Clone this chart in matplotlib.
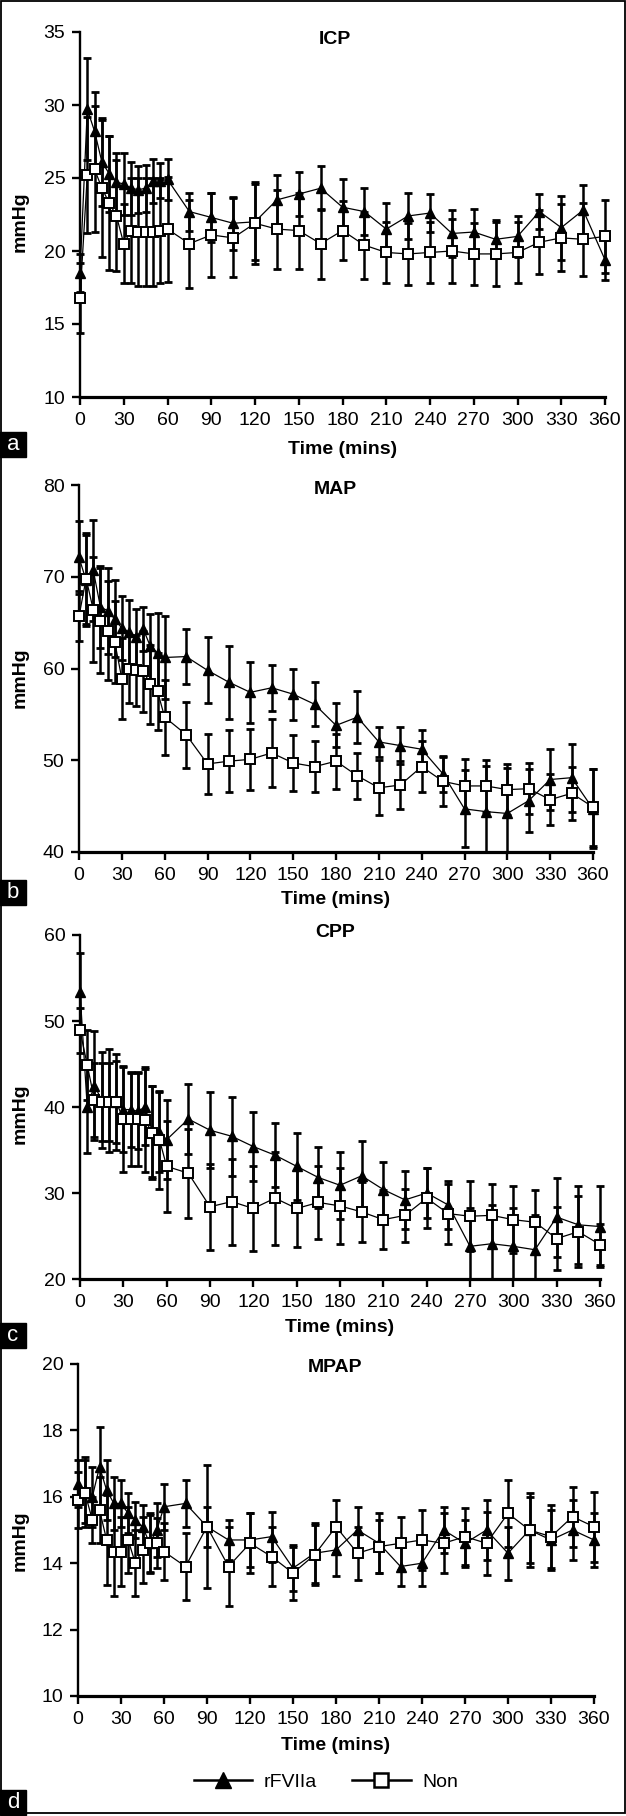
import numpy as np
import matplotlib
matplotlib.use('Agg')
import matplotlib.pyplot as plt
from matplotlib.lines import Line2D
from matplotlib.patches import Rectangle

plt.rcParams['font.family'] = ['Liberation Sans', 'DejaVu Sans']

W, H = 626, 1816

time = [0, 5, 10, 15, 20, 25, 30, 35, 40, 45, 50, 55, 60, 75, 90, 105, 120,
        135, 150, 165, 180, 195, 210, 225, 240, 255, 270, 285, 300, 315, 330, 345, 360]
xticks = [0, 30, 60, 90, 120, 150, 180, 210, 240, 270, 300, 330, 360]

# ICP
icp_rf = [18.5, 29.7, 28.2, 26.1, 25.3, 24.7, 24.6, 24.3, 24.2, 24.3, 24.8, 24.8, 24.9, 22.7, 22.3, 21.9, 22.0,
          23.5, 23.9, 24.3, 23.0, 22.7, 21.5, 22.4, 22.6, 21.2, 21.3, 20.8, 21.0, 22.7, 21.6, 22.8, 19.4]
icp_rf_err = [1.3, 3.5, 2.7, 3.0, 2.6, 2.0, 2.1, 1.8, 1.6, 1.6, 1.5, 1.2, 1.4, 1.3, 1.7, 1.8, 2.6,
              1.7, 1.5, 1.5, 1.9, 1.6, 1.8, 1.6, 1.3, 1.6, 1.6, 1.3, 1.4, 1.2, 2.2, 1.7, 1.4]
icp_non = [16.8, 25.2, 25.6, 24.3, 23.3, 22.4, 20.5, 21.4, 21.3, 21.3, 21.3, 21.4, 21.5, 20.5, 21.1, 20.9, 21.9,
           21.5, 21.4, 20.5, 21.4, 20.4, 19.9, 19.8, 19.9, 20.0, 19.8, 19.8, 19.9, 20.6, 20.9, 20.8, 21.0]
icp_non_err = [2.4, 4.0, 4.3, 4.7, 4.6, 3.8, 2.7, 3.6, 3.7, 3.7, 3.7, 3.6, 3.6, 3.0, 2.9, 2.7, 2.8,
               2.7, 2.6, 2.4, 2.0, 2.3, 2.1, 2.1, 2.1, 2.2, 2.1, 2.2, 2.1, 2.2, 2.3, 2.5, 2.5]

# MAP
map_rf = [72.1, 69.6, 70.7, 66.7, 66.3, 65.4, 64.4, 64.0, 63.4, 64.3, 62.4, 61.7, 61.2, 61.3, 59.8, 58.5, 57.4,
          57.9, 57.2, 56.1, 53.8, 54.7, 52.0, 51.6, 51.2, 48.5, 44.7, 44.4, 44.2, 45.6, 47.9, 48.1, 44.7]
map_rf_err = [4.0, 5.0, 5.5, 4.5, 4.7, 4.2, 3.5, 3.5, 3.1, 2.4, 3.5, 4.3, 4.5, 3.0, 3.6, 4.0, 3.3,
              2.5, 2.8, 2.4, 2.4, 2.8, 1.6, 2.0, 2.1, 2.0, 4.2, 5.0, 5.0, 3.4, 3.3, 3.7, 4.3]
map_non = [65.7, 69.8, 66.4, 65.2, 64.1, 62.9, 58.9, 59.9, 59.8, 59.7, 58.3, 57.5, 54.7, 52.8, 49.6, 49.9, 50.1,
           50.8, 49.7, 49.3, 49.9, 48.3, 47.0, 47.3, 49.3, 47.7, 47.2, 47.2, 46.8, 46.9, 45.7, 46.4, 44.9]
map_non_err = [2.7, 5.0, 5.7, 5.7, 5.4, 4.5, 4.4, 3.7, 3.9, 4.4, 4.3, 4.2, 4.1, 3.6, 3.3, 3.4, 3.3,
               3.7, 3.0, 2.8, 3.0, 2.5, 3.0, 2.6, 2.8, 2.7, 2.9, 2.8, 2.8, 2.8, 2.8, 2.9, 4.2]

# CPP
cpp_rf = [53.4, 40.0, 42.5, 40.8, 40.8, 40.6, 39.7, 39.7, 39.5, 40.0, 37.2, 37.1, 36.2, 38.6, 37.3, 36.6, 35.4,
          34.4, 33.1, 31.8, 30.9, 32.0, 30.4, 29.2, 30.0, 28.6, 23.8, 24.1, 23.8, 23.4, 27.2, 26.3, 26.1]
cpp_rf_err = [4.5, 5.3, 6.3, 5.6, 6.0, 5.6, 4.9, 4.3, 4.4, 4.4, 5.3, 4.6, 4.6, 4.1, 4.4, 4.6, 4.0,
              3.7, 3.9, 3.6, 3.9, 4.0, 3.2, 3.4, 2.9, 2.8, 4.5, 4.5, 4.5, 4.0, 4.6, 4.5, 4.7]
cpp_non = [48.9, 44.9, 40.8, 40.6, 40.6, 40.6, 38.6, 38.6, 38.6, 38.5, 37.0, 36.2, 33.1, 32.3, 28.4, 29.0, 28.2,
           29.4, 28.2, 28.9, 28.5, 27.8, 26.9, 27.4, 29.4, 27.6, 27.3, 27.4, 26.9, 26.6, 24.7, 25.5, 24.0]
cpp_non_err = [2.6, 4.1, 4.3, 4.5, 4.5, 4.8, 6.2, 5.5, 5.5, 6.1, 5.4, 5.7, 5.3, 5.2, 5.0, 5.0, 4.9,
               5.4, 4.5, 4.2, 4.4, 3.5, 3.4, 3.1, 3.5, 3.5, 4.1, 3.6, 3.9, 3.7, 3.7, 4.1, 2.4]

# MPAP
mpap_rf = [16.4, 16.2, 16.0, 16.9, 16.2, 15.8, 15.8, 15.5, 15.3, 15.1, 14.6, 15.0, 15.7, 15.8, 15.1, 14.7, 14.7,
           14.8, 13.85, 14.3, 14.4, 15.0, 14.6, 13.9, 14.0, 15.0, 14.6, 15.0, 14.3, 15.0, 14.7, 15.0, 14.7]
mpap_rf_err = [0.7, 1.0, 0.9, 1.2, 0.9, 0.8, 0.7, 0.6, 0.55, 0.65, 0.9, 0.8, 0.7, 0.7, 1.85, 0.6, 0.8,
               0.75, 0.7, 0.9, 0.8, 0.7, 0.9, 0.6, 0.7, 0.7, 0.7, 0.9, 0.8, 1.1, 0.9, 0.9, 0.8]
mpap_non = [15.9, 16.1, 15.3, 15.6, 14.7, 14.35, 14.35, 14.7, 14.0, 14.4, 14.6, 14.6, 14.35, 13.9, 15.1, 13.9, 14.6,
            14.2, 13.7, 14.25, 15.1, 14.3, 14.5, 14.6, 14.7, 14.6, 14.8, 14.6, 15.5, 15.0, 14.8, 15.4, 15.1]
mpap_non_err = [0.85, 1.0, 0.7, 1.0, 1.35, 1.35, 1.05, 1.0, 1.0, 1.0, 0.85, 0.75, 0.85, 1.0, 0.6, 1.2, 0.9,
                0.9, 0.8, 0.9, 0.8, 0.8, 0.8, 0.8, 0.9, 0.9, 0.85, 0.95, 1.0, 1.0, 0.95, 0.9, 1.05]

titles = ['ICP', 'MAP', 'CPP', 'MPAP']
letters = ['a', 'b', 'c', 'd']
ylims = [(10, 35), (40, 80), (20, 60), (10, 20)]
yticks = [[10, 15, 20, 25, 30, 35], [40, 50, 60, 70, 80], [20, 30, 40, 50, 60], [10, 12, 14, 16, 18, 20]]
series = [(icp_rf, icp_rf_err, icp_non, icp_non_err),
          (map_rf, map_rf_err, map_non, map_non_err),
          (cpp_rf, cpp_rf_err, cpp_non, cpp_non_err),
          (mpap_rf, mpap_rf_err, mpap_non, mpap_non_err)]

# pixel layout: x of t=0, x of t=360, y top, y bottom
boxes = [(80, 605, 32, 397), (79, 593, 485, 852), (80, 600, 935, 1279), (78, 594, 1364, 1696)]
title_y = [40, 490, 933, 1367]
xlab_y = [449, 900, 1328, 1746]
ylab_y = [222, 678, 1114, 1541]
letter_y = [432, 880, 1323, 1790]

fig = plt.figure(figsize=(W / 100, H / 100), dpi=100)

pad = 6
for i in range(4):
    x0, x1, yt, yb = boxes[i]
    ppm = (x1 - x0) / 360.0
    left = x0 - pad * ppm
    right = x1 + pad * ppm
    ax = fig.add_axes([left / W, 1 - yb / H, (right - left) / W, (yb - yt) / H])
    rf, rf_e, non, non_e = series[i]

    ax.errorbar(time, rf, yerr=rf_e, fmt='none', ecolor='black', elinewidth=1.8,
                capsize=3.2, capthick=2.0, zorder=2)
    ax.errorbar(time, non, yerr=non_e, fmt='none', ecolor='black', elinewidth=1.8,
                capsize=3.2, capthick=2.0, zorder=2)
    ax.plot(time, rf, '-', color='black', lw=0.9, marker='^', ms=7,
            mfc='black', mec='black', zorder=3)
    ax.plot(time, non, '-', color='black', lw=0.9, marker='s', ms=6.5,
            mfc='white', mec='black', mew=1.4, zorder=4)

    ax.set_xlim(-pad, 360 + pad)
    ax.set_ylim(*ylims[i])
    ax.set_xticks(xticks)
    ax.set_yticks(yticks[i])
    for s in ['top', 'right']:
        ax.spines[s].set_visible(False)
    ax.spines['left'].set_position(('data', 0))
    ax.spines['bottom'].set_bounds(0, 360)
    ax.spines['left'].set_linewidth(1.7)
    ax.spines['bottom'].set_linewidth(2.3)
    ax.tick_params(axis='both', direction='out', length=6, width=1.7,
                   labelsize=14, pad=4.5)
    ax.patch.set_alpha(0)

    fig.text(335 / W, 1 - title_y[i] / H, titles[i], ha='center', va='center',
             fontsize=14, fontweight='bold')
    fig.text((x0 + x1) / 2 / W, 1 - xlab_y[i] / H, 'Time (mins)', ha='center', va='center',
             fontsize=14, fontweight='bold')
    fig.text(20 / W, 1 - ylab_y[i] / H, 'mmHg', ha='center', va='center',
             fontsize=14, fontweight='bold', rotation=90)

    fig.patches.append(Rectangle((0, 1 - (letter_y[i] + 25) / H), 26 / W, 25 / H,
                                 transform=fig.transFigure, color='black', zorder=5))
    fig.text(13 / W, 1 - (letter_y[i] + 12.5) / H, letters[i], ha='center', va='center',
             fontsize=16, color='white', zorder=6)

handles = [Line2D([], [], color='black', lw=1.8, marker='^', ms=11, mfc='black', mec='black'),
           Line2D([], [], color='black', lw=1.8, marker='s', ms=10, mfc='white', mec='black', mew=1.8)]
fig.legend(handles, ['rFVIIa', 'Non'], loc='center', bbox_to_anchor=(326 / W, 1 - 1782 / H),
           ncol=2, frameon=False, fontsize=14, handlelength=3.0, handletextpad=0.6,
           columnspacing=1.8)

# outer frame
fig.patches.append(Rectangle((0.5 / W, 3 / H), (W - 2) / W, (H - 4) / H, transform=fig.transFigure,
                             fill=False, edgecolor='black', lw=1.3))

fig.savefig('out.png', dpi=100)
